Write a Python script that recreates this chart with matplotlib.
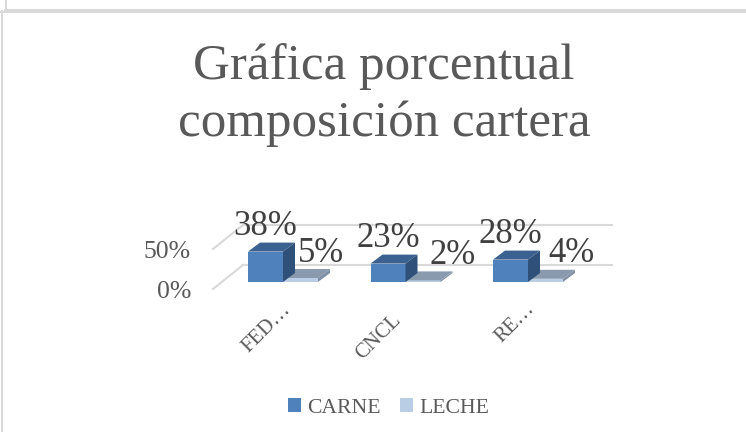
import matplotlib
matplotlib.use("Agg")
import matplotlib.pyplot as plt
from matplotlib.patches import Polygon, Patch
from matplotlib.lines import Line2D

categories = ["FED…", "CNCL", "RE…"]
carne = [38, 23, 28]
leche = [5, 2, 4]
y_ticks = [0, 50]
y_labels = ["0%", "50%"]
series_names = ["CARNE", "LECHE"]
title = "Gráfica porcentual\ncomposición cartera"

W, H = 746, 432
plt.rcParams['font.family'] = ['Liberation Serif', 'DejaVu Serif']

fig = plt.figure(figsize=(W / 100, H / 100), dpi=100)

# ejes colocados en pixeles: 0% en y=282, 122.5 px entre categorias
left, right, top, bottom = 213, 612, 225, 289
ax = fig.add_axes([left / W, 1 - bottom / H, (right - left) / W, (bottom - top) / H])
px_x = 122.5
px_y = 0.8
ax.set_xlim((left - 283) / px_x, (right - 283) / px_x)
ax.set_ylim((282 - bottom) / px_y, (282 - top) / px_y)
ax.axis('off')

bar_w = 35 / px_x
depth_x = 12 / px_x
depth_y = 9 / px_y

# desplazamiento de cada etiqueta de categoria respecto a su grupo (px)
label_dx = [-16, -27, -13]
label_y = [328, 337, 323]
# desplazamiento de las etiquetas de LECHE (px)
leche_dx = [21, 30, 26]


def bar3d(x, value, front, top_c, side):
    x2 = x + bar_w
    ax.add_patch(Polygon([(x, 0), (x2, 0), (x2, value), (x, value)], fc=front, ec='none', zorder=3))
    ax.add_patch(Polygon([(x, value), (x2, value), (x2 + depth_x, value + depth_y), (x + depth_x, value + depth_y)],
                         fc=top_c, ec='none', zorder=3))
    ax.add_patch(Polygon([(x2, 0), (x2 + depth_x, depth_y), (x2 + depth_x, value + depth_y), (x2, value)],
                         fc=side, ec='none', zorder=3))


# rejilla con la pared lateral en diagonal
grid_back = (243 - 283) / px_x
floor_front = (282 - bottom) / px_y
floor_back = (282 - 265) / px_y
for t in y_ticks:
    ax.plot([ax.get_xlim()[0], grid_back], [t + floor_front, t + floor_back], color='#D9D9D9', lw=1.5, zorder=1,
            clip_on=False)
    ax.plot([grid_back, ax.get_xlim()[1]], [t + floor_back, t + floor_back], color='#D9D9D9', lw=1.5, zorder=1,
            clip_on=False)

for i in range(len(categories)):
    bar3d(i, leche[i], '#B9CDE5', '#8A9AAE', '#7F90A6')
    bar3d(i - bar_w, carne[i], '#4F81BD', '#3A6190', '#2F5078')
    ax.text(i - bar_w / 2, carne[i] + 31, f"{carne[i]}%", ha='center', va='center',
            fontsize=25, color='#404040', zorder=5)
    ax.text(i + bar_w / 2 + leche_dx[i] / px_x, leche[i] + 31, f"{leche[i]}%", ha='center', va='center',
            fontsize=25, color='#404040', zorder=5)
    ax.text(i + label_dx[i] / px_x, (282 - label_y[i]) / px_y, categories[i], rotation=45, ha='center', va='center',
            fontsize=15, color='#595959')

for t, lab in zip(y_ticks, y_labels):
    ax.text((191 - 283) / px_x, t - 12, lab, ha='right', va='center', fontsize=18.5, color='#595959')

fig.text(384 / W, 1 - 95 / H, title, ha='center', va='center', fontsize=36.7, color='#595959', linespacing=1.29)

handles = [Patch(fc='#4F81BD', ec='none'), Patch(fc='#B9CDE5', ec='none')]
fig.legend(handles, series_names, loc='center', bbox_to_anchor=(388.5 / W, 1 - 408 / H), ncol=2, frameon=False,
           fontsize=15.6, labelcolor='#595959', handlelength=0.6, handleheight=0.6, handletextpad=0.3,
           columnspacing=0.9)

# marcos grises de los graficos
frame = '#D9D9D9'
fig.add_artist(Line2D([2 / W, 2 / W], [0, 1 - 11 / H], color=frame, lw=1.5))
fig.add_artist(Line2D([1 / W, 1], [1 - 11.5 / H, 1 - 11.5 / H], color=frame, lw=1.5))
fig.add_artist(Line2D([6 / W, 6 / W], [1 - 9 / H, 1], color=frame, lw=1.5))
fig.add_artist(Line2D([5 / W, 1], [1 - 10 / H, 1 - 10 / H], color=frame, lw=1.5))

fig.savefig("out.png", dpi=100)
